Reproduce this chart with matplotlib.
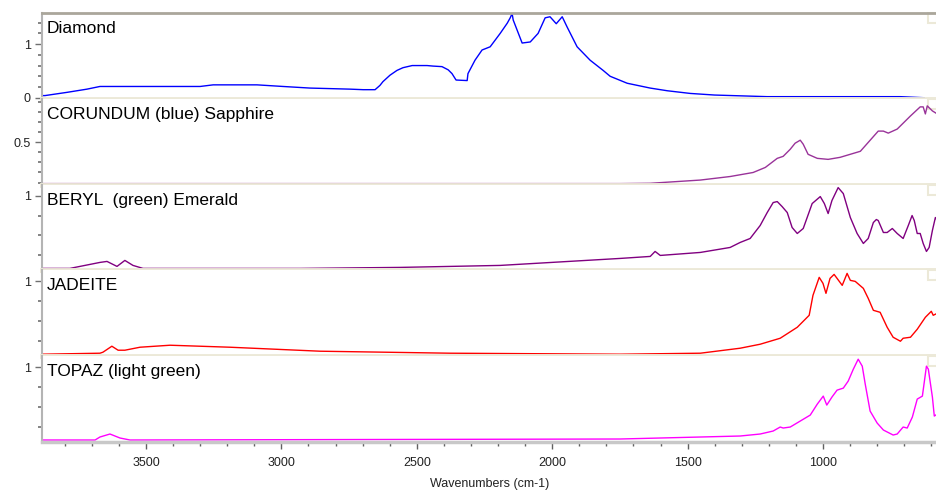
import matplotlib
matplotlib.use("Agg")
import matplotlib.pyplot as plt
from matplotlib.ticker import MultipleLocator, FixedLocator
from matplotlib.patches import Rectangle

plt.rcParams["font.family"] = ["Liberation Sans", "DejaVu Sans"]

# spectra: wavenumber (cm-1), absorbance
diamond_wn = [3884, 3873, 3792, 3718, 3670, 3300, 3252, 3090, 2994, 2894, 2746, 2698, 2654,
              2636, 2625, 2599, 2573, 2551, 2517, 2462, 2440, 2407, 2384, 2370, 2355, 2314,
              2311, 2285, 2259, 2229, 2192, 2166, 2155, 2148, 2144, 2111, 2081, 2052, 2026,
              2008, 1985, 1963, 1945, 1908, 1860, 1812, 1786, 1723, 1638, 1575, 1490, 1400,
              1206, 715, 626]
diamond_ab = [0.04, 0.04, 0.10, 0.16, 0.21, 0.21, 0.24, 0.24, 0.21, 0.18, 0.16, 0.15, 0.15,
              0.23, 0.30, 0.42, 0.51, 0.56, 0.60, 0.60, 0.59, 0.58, 0.52, 0.45, 0.33, 0.32,
              0.45, 0.70, 0.89, 0.95, 1.20, 1.39, 1.49, 1.57, 1.45, 1.02, 1.04, 1.20, 1.49,
              1.51, 1.38, 1.51, 1.32, 0.95, 0.70, 0.51, 0.40, 0.27, 0.18, 0.13, 0.08, 0.05,
              0.02, 0.02, 0.00]

corundum_wn = [3884, 1749, 1638, 1453, 1343, 1258, 1213, 1169, 1147, 1121, 1103, 1084, 1073,
               1055, 1021, 981, 937, 862, 796, 777, 759, 726, 677, 641, 630, 622, 615, 596,
               578]
corundum_ab = [0.09, 0.09, 0.093, 0.125, 0.16, 0.20, 0.25, 0.34, 0.36, 0.43, 0.49, 0.52, 0.48,
               0.38, 0.34, 0.33, 0.35, 0.41, 0.61, 0.61, 0.59, 0.63, 0.76, 0.85, 0.85, 0.78,
               0.86, 0.81, 0.78]

beryl_wn = [3884, 3781, 3670, 3644, 3607, 3578, 3548, 3511, 2931, 2562, 2192, 1749, 1638,
            1620, 1601, 1453, 1343, 1306, 1269, 1232, 1206, 1184, 1169, 1151, 1132, 1114,
            1095, 1073, 1040, 1010, 995, 981, 967, 944, 925, 899, 874, 851, 833, 814, 803,
            796, 777, 763, 744, 726, 704, 685, 671, 663, 652, 641, 630, 618, 608, 596, 585,
            578]
beryl_ab = [0.27, 0.27, 0.33, 0.34, 0.29, 0.35, 0.30, 0.27, 0.27, 0.28, 0.30, 0.37, 0.39,
            0.44, 0.40, 0.43, 0.48, 0.53, 0.57, 0.70, 0.83, 0.93, 0.94, 0.89, 0.83, 0.68,
            0.62, 0.67, 0.92, 0.99, 0.92, 0.82, 0.95, 1.08, 1.02, 0.78, 0.62, 0.52, 0.57,
            0.73, 0.76, 0.75, 0.63, 0.63, 0.67, 0.62, 0.57, 0.70, 0.80, 0.75, 0.62, 0.62,
            0.52, 0.44, 0.48, 0.65, 0.78, 0.75]

jadeite_wn = [3884, 3670, 3659, 3626, 3603, 3578, 3522, 3411, 3190, 2857, 2377, 1749, 1453,
              1306, 1232, 1158, 1095, 1051, 1037, 1014, 1000, 989, 974, 959, 948, 929, 911,
              899, 881, 851, 833, 814, 789, 763, 741, 714, 704, 677, 652, 622, 600, 593, 578]
jadeite_ab = [0.27, 0.28, 0.29, 0.35, 0.31, 0.31, 0.34, 0.36, 0.34, 0.30, 0.28, 0.27, 0.28,
              0.33, 0.37, 0.43, 0.54, 0.66, 0.86, 1.04, 0.98, 0.88, 1.03, 1.07, 1.03, 0.96,
              1.08, 1.01, 1.00, 0.93, 0.83, 0.71, 0.69, 0.54, 0.44, 0.40, 0.43, 0.44, 0.52,
              0.64, 0.70, 0.66, 0.68]

topaz_wn = [3884, 3688, 3670, 3633, 3596, 3559, 1749, 1453, 1306, 1232, 1184, 1158, 1147,
            1121, 1084, 1047, 1021, 999, 986, 967, 948, 925, 907, 888, 870, 855, 844, 826,
            800, 777, 741, 726, 704, 689, 670, 652, 633, 618, 611, 596, 589, 578]
topaz_ab = [0.27, 0.27, 0.30, 0.33, 0.29, 0.27, 0.28, 0.30, 0.31, 0.33, 0.36, 0.40, 0.39,
            0.40, 0.46, 0.52, 0.63, 0.71, 0.62, 0.70, 0.77, 0.79, 0.86, 0.98, 1.08, 1.01,
            0.83, 0.56, 0.44, 0.37, 0.32, 0.33, 0.40, 0.39, 0.50, 0.68, 0.71, 1.01, 0.98,
            0.70, 0.51, 0.53]

names = ["Diamond", "CORUNDUM (blue) Sapphire", "BERYL  (green) Emerald", "JADEITE",
         "TOPAZ (light green)"]
colors = ["#0000ff", "#993399", "#800080", "#ff0000", "#ff00ff"]
ylims = [(-0.02, 1.58), (0.08, 0.93), (0.25, 1.11), (0.25, 1.11), (0.25, 1.11)]
major_y = [[0, 1], [0.5], [1], [1], [1]]
minor_y = [0.2, 0.1, 0.2, 0.2, 0.2]
xticks = [3500, 3000, 2500, 2000, 1500, 1000]

series = [(diamond_wn, diamond_ab), (corundum_wn, corundum_ab), (beryl_wn, beryl_ab),
          (jadeite_wn, jadeite_ab), (topaz_wn, topaz_ab)]

W, H = 937, 490
fig = plt.figure(figsize=(W / 100, H / 100), dpi=100)
left, right, top, bottom = 42, 937, 13, 442
ph = (bottom - top) / 5

axis_gray = "#b4b4b4"
beige = "#ece9d8"

for i, ((wn, ab), name, c) in enumerate(zip(series, names, colors)):
    y0 = top + i * ph
    ax = fig.add_axes([left / W, 1 - (y0 + ph) / H, (right - left) / W, ph / H])
    ax.plot(wn, ab, color=c, lw=1.0)
    ax.set_xlim(3884, 579)
    ax.set_ylim(*ylims[i])
    ax.yaxis.set_major_locator(FixedLocator(major_y[i]))
    ax.yaxis.set_minor_locator(MultipleLocator(minor_y[i]))
    ax.yaxis.set_major_formatter(plt.FuncFormatter(lambda v, p: "%g" % v))
    ax.tick_params(axis="y", which="major", length=5, width=1, color="#707070",
                   labelsize=9, labelcolor="#222222", pad=3)
    ax.tick_params(axis="y", which="minor", left=True, length=3, width=1.2, color="#707070")
    ax.spines["right"].set_visible(False)
    ax.spines["left"].set_color(axis_gray)
    ax.spines["left"].set_linewidth(1.5)
    if i == 0:
        ax.spines["top"].set_color("#aaa69b")
        ax.spines["top"].set_linewidth(2)
    else:
        ax.spines["top"].set_visible(False)
    if i < 4:
        ax.spines["bottom"].set_color(beige)
        ax.spines["bottom"].set_linewidth(3.5)
        ax.tick_params(axis="x", which="both", bottom=False, labelbottom=False)
    else:
        ax.spines["bottom"].set_color("#c8c8c8")
        ax.spines["bottom"].set_linewidth(2.5)
        ax.xaxis.set_major_locator(FixedLocator(xticks))
        ax.xaxis.set_minor_locator(MultipleLocator(100))
        ax.tick_params(axis="x", which="major", length=5, width=1, color="#606060",
                       labelsize=9, labelcolor="#222222", pad=6)
        ax.tick_params(axis="x", which="minor", length=3, width=1, color="#606060")
        ax.set_xlabel("Wavenumbers (cm-1)", fontsize=9, color="#222222", labelpad=6)
    ax.set_facecolor("white")
    ax.text(5 / (right - left), 1 - 8 / ph, name, transform=ax.transAxes, fontsize=12.5,
            va="top", ha="left", color="black")
    # little corner tab in the top right
    ax.add_patch(Rectangle((1 - 9 / (right - left), 1 - 10 / ph), 9 / (right - left), 10 / ph,
                           transform=ax.transAxes, fill=False, edgecolor=beige, lw=1.5,
                           clip_on=False))

fig.savefig("out.png", dpi=100)
